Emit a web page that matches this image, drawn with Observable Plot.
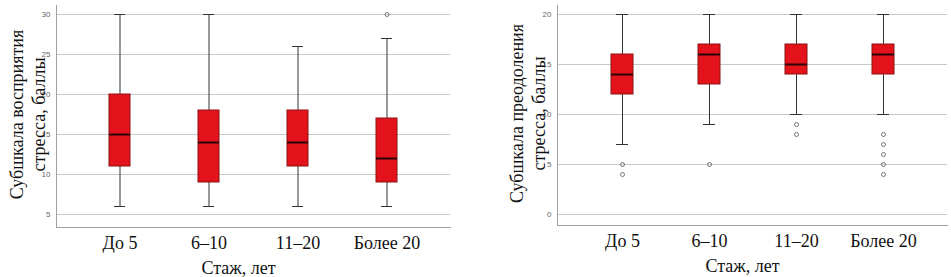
<!DOCTYPE html>
<html>
<head>
<meta charset="utf-8">
<script src="https://cdn.jsdelivr.net/npm/d3@7"></script>
<script src="https://cdn.jsdelivr.net/npm/@observablehq/plot@0.6"></script>
<style>
  html, body { margin: 0; padding: 0; background: #fff; }
  #wrap { display: flex; width: 951px; height: 277px; }
</style>
</head>
<body>
<div id="wrap"></div>
<script>
const categories = ["До 5", "6–10", "11–20", "Более 20"];

// Chart 1: Субшкала восприятия стресса
const percLow  = [6, 6, 6, 6];
const percQ1   = [11, 9, 11, 9];
const percMed  = [15, 14, 14, 12];
const percQ3   = [20, 18, 18, 17];
const percHigh = [30, 30, 26, 27];
const percOutCats = ["Более 20"];
const percOutVals = [30];
const percTicks = [5, 10, 15, 20, 25, 30];

// Chart 2: Субшкала преодоления стресса
const copeLow  = [7, 9, 10, 10];
const copeQ1   = [12, 13, 14, 14];
const copeMed  = [14, 16, 15, 16];
const copeQ3   = [16, 17, 17, 17];
const copeHigh = [20, 20, 20, 20];
const copeOutCats = ["До 5", "До 5", "6–10", "11–20", "11–20", "Более 20", "Более 20", "Более 20", "Более 20", "Более 20"];
const copeOutVals = [5, 4, 5, 9, 8, 8, 7, 6, 5, 4];
const copeTicks = [0, 5, 10, 15, 20];

const xTitle = "Стаж, лет";
const yTitle1 = "Субшкала восприятия\nстресса, баллы";
const yTitle2 = "Субшкала преодоления\nстресса, баллы";

const serif = "'Liberation Serif', 'Times New Roman', serif";
const sans = "'Liberation Sans', Arial, sans-serif";

function makeChart(cfg) {
  const rows = categories.map((c, i) => ({
    cat: c, low: cfg.low[i], q1: cfg.q1[i], med: cfg.med[i], q3: cfg.q3[i], high: cfg.high[i]
  }));
  const outs = cfg.outCats.map((c, i) => ({cat: c, v: cfg.outVals[i]}));
  return Plot.plot({
    width: cfg.width,
    height: 277,
    marginLeft: cfg.marginLeft,
    marginRight: cfg.marginRight,
    marginTop: 5,
    marginBottom: cfg.marginBottom,
    style: {background: "#fff"},
    x: {type: "band", domain: categories, paddingInner: cfg.pi, paddingOuter: cfg.po, label: null},
    y: {domain: cfg.yDomain, ticks: cfg.ticks, label: null},
    marks: [
      Plot.gridY(cfg.ticks, {stroke: "#c8c8c8", strokeOpacity: 1}),
      Plot.frame({anchor: "left", stroke: "#a0a0a0"}),
      Plot.frame({anchor: "bottom", stroke: "#a0a0a0"}),
      Plot.axisY(cfg.ticks, {tickSize: 0, tickPadding: 6, fontSize: 8, fill: "#666", fontFamily: sans, label: null}),
      Plot.axisX({tickSize: 0, tickPadding: 9, fontSize: 18, fill: "#111", fontFamily: serif, label: null}),
      Plot.ruleX(rows, {x: "cat", y1: "low", y2: "high", stroke: "#333", strokeWidth: 1}),
      Plot.tickY(rows, {x: "cat", y: "low", stroke: "#333", insetLeft: 5, insetRight: 5}),
      Plot.tickY(rows, {x: "cat", y: "high", stroke: "#333", insetLeft: 5, insetRight: 5}),
      Plot.barY(rows, {x: "cat", y1: "q1", y2: "q3", fill: "#e3121b", stroke: "#8a1212", strokeWidth: 1}),
      Plot.tickY(rows, {x: "cat", y: "med", stroke: "#2a0505", strokeWidth: 2}),
      Plot.dot(outs, {x: "cat", y: "v", r: 2, stroke: "#555", fill: "none", strokeWidth: 0.8}),
      Plot.text([cfg.yTitle], {frameAnchor: "left", rotate: -90, dx: cfg.yTitleDx, dy: -2,
        fontSize: 18, fontFamily: serif, fill: "#111", lineHeight: 1.22, textAnchor: "middle", lineAnchor: "middle"}),
      Plot.text([xTitle], {frameAnchor: "bottom", dx: cfg.xTitleDx, dy: 41,
        fontSize: 18, fontFamily: serif, fill: "#111", lineAnchor: "middle"})
    ]
  });
}

const wrap = document.getElementById("wrap");
wrap.appendChild(makeChart({
  width: 475, marginLeft: 56, marginRight: 25, marginBottom: 50,
  pi: 0.764, po: 0.595, yDomain: [3.375, 31.125], ticks: percTicks,
  low: percLow, q1: percQ1, med: percMed, q3: percQ3, high: percHigh,
  outCats: percOutCats, outVals: percOutVals,
  yTitle: yTitle1, yTitleDx: -30, xTitleDx: -15
}));
wrap.appendChild(makeChart({
  width: 476, marginLeft: 82, marginRight: 4, marginBottom: 52,
  pi: 0.75, po: 0.6, yDomain: [-1.1, 20.9], ticks: copeTicks,
  low: copeLow, q1: copeQ1, med: copeMed, q3: copeQ3, high: copeHigh,
  outCats: copeOutCats, outVals: copeOutVals,
  yTitle: yTitle2, yTitleDx: -31, xTitleDx: -10
}));
</script>
</body>
</html>
